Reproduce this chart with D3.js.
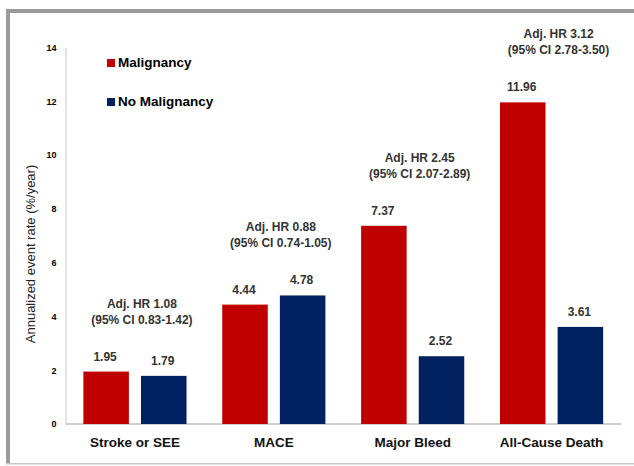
<!DOCTYPE html>
<html>
<head>
<meta charset="utf-8">
<script src="https://cdn.jsdelivr.net/npm/d3@7"></script>
<style>
  body { margin: 0; background: #fff; }
  svg { display: block; font-family: Arial, 'Liberation Sans', sans-serif; }
  .tick text { font-weight: bold; font-size: 9px; fill: #000; }
  .value { font-weight: bold; font-size: 12px; fill: #333; }
  .hr { font-weight: bold; font-size: 12px; fill: #333; }
  .cat { font-weight: bold; font-size: 13.5px; fill: #111; }
  .legend text { font-weight: bold; font-size: 13.5px; fill: #000; }
</style>
</head>
<body>
<script>
(function () {

  // Values
  let categories   = ['Stroke or SEE', 'MACE', 'Major Bleed', 'All-Cause Death'];
  let malignancy   = [1.95, 4.44, 7.37, 11.96];
  let noMalignancy = [1.79, 4.78, 2.52, 3.61];
  let hrLabels     = ['Adj. HR 1.08', 'Adj. HR 0.88', 'Adj. HR 2.45', 'Adj. HR 3.12'];
  let ciLabels     = ['(95% CI 0.83-1.42)', '(95% CI 0.74-1.05)', '(95% CI 2.07-2.89)', '(95% CI 2.78-3.50)'];
  let seriesNames  = ['Malignancy', 'No Malignancy'];
  let yTicks       = [0, 2, 4, 6, 8, 10, 12, 14];

  let colors = { 'Malignancy': '#c00000', 'No Malignancy': '#002060' };

  let width  = 634;
  let height = 466;
  let margin = { top: 47.5, right: 13, bottom: 42, left: 65.5 };

  let svg = d3.select('body').append('svg')
      .attr('width', width)
      .attr('height', height);

  // frame around the slide
  svg.append('rect').attr('x', 6).attr('y', 9).attr('width', width - 6).attr('height', 4).attr('fill', '#9a9a9a');
  svg.append('rect').attr('x', 6).attr('y', 9).attr('width', 4).attr('height', 455).attr('fill', '#9a9a9a');
  svg.append('rect').attr('x', 6).attr('y', 463).attr('width', width - 6).attr('height', 1.5).attr('fill', '#c8c8c8');

  let x0 = d3.scaleBand()
      .domain(categories)
      .range([margin.left, width - margin.right])
      .paddingInner(0)
      .paddingOuter(0);

  let x1 = d3.scaleBand()
      .domain(seriesNames)
      .range([0, x0.bandwidth()])
      .paddingInner(0.21)
      .paddingOuter(0.31);

  let y = d3.scaleLinear()
      .domain([0, 14])
      .range([height - margin.bottom, margin.top]);

  // y axis
  let yAxis = svg.append('g')
      .attr('transform', 'translate(' + margin.left + ',0)')
      .call(d3.axisLeft(y).tickValues(yTicks).tickSize(0).tickPadding(9));
  yAxis.select('.domain').attr('stroke', '#c8c8c8').attr('stroke-width', 1);

  svg.append('text')
    .attr('transform', 'translate(35,254) rotate(-90)')
    .attr('text-anchor', 'middle')
    .attr('font-size', '13px')
    .attr('fill', '#222')
    .text('Annualized event rate (%/year)');

  // x axis line
  svg.append('line')
    .attr('x1', margin.left).attr('x2', width - margin.right)
    .attr('y1', y(0)).attr('y2', y(0))
    .attr('stroke', '#d0d0d0')
    .attr('stroke-width', 2);

  let rows = categories.map((c, i) => ({
    cat: c,
    hr: hrLabels[i],
    ci: ciLabels[i],
    vals: [
      { key: 'Malignancy', value: malignancy[i] },
      { key: 'No Malignancy', value: noMalignancy[i] }
    ]
  }));

  let g = svg.append('g').selectAll('g.group').data(rows)
    .enter().append('g')
      .attr('class', 'group')
      .attr('transform', d => 'translate(' + x0(d.cat) + ',0)');

  g.selectAll('rect.bar').data(d => d.vals)
    .enter().append('rect')
      .attr('class', 'bar')
      .attr('x', d => x1(d.key))
      .attr('y', d => y(d.value))
      .attr('width', x1.bandwidth())
      .attr('height', d => y(0) - y(d.value))
      .attr('fill', d => colors[d.key]);

  g.selectAll('text.value').data(d => d.vals)
    .enter().append('text')
      .attr('class', 'value')
      .attr('text-anchor', 'middle')
      .attr('x', d => x1(d.key) + x1.bandwidth() / 2 - 1)
      .attr('y', d => y(d.value) - 11)
      .text(d => d.value.toFixed(2));

  // hazard ratio notes sit above the taller bar of each pair
  function top(d) { return y(d3.max(d.vals, v => v.value)); }

  g.append('text')
    .attr('class', 'hr')
    .attr('text-anchor', 'middle')
    .attr('x', x0.bandwidth() / 2 + 7)
    .attr('y', d => top(d) - 64)
    .text(d => d.hr);

  g.append('text')
    .attr('class', 'hr')
    .attr('text-anchor', 'middle')
    .attr('x', x0.bandwidth() / 2 + 7)
    .attr('y', d => top(d) - 48)
    .text(d => d.ci);

  g.append('text')
    .attr('class', 'cat')
    .attr('text-anchor', 'middle')
    .attr('x', x0.bandwidth() / 2)
    .attr('y', y(0) + 23)
    .text(d => d.cat);

  // Legend
  let legend = svg.append('g').attr('class', 'legend');
  seriesNames.forEach((name, i) => {
    let ly = 67 + i * 39;
    legend.append('rect')
      .attr('x', 107).attr('y', ly - 8)
      .attr('width', 8).attr('height', 8)
      .attr('fill', colors[name]);
    legend.append('text').attr('x', 118).attr('y', ly).text(name);
  });

})();
</script>
</body>
</html>
